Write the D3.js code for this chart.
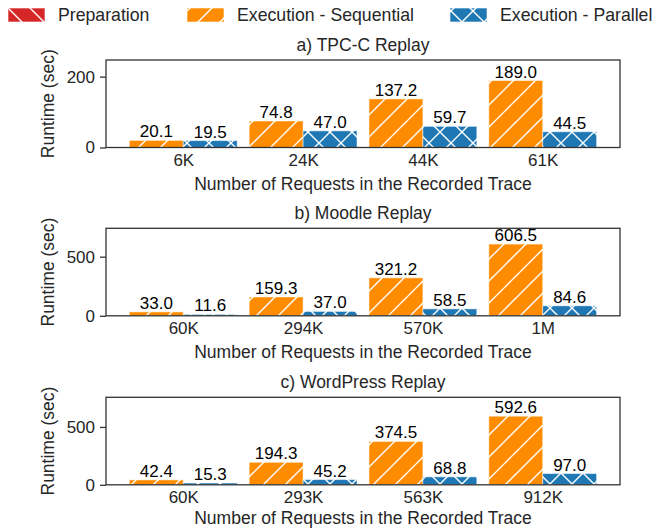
<!DOCTYPE html>
<html>
<head>
<meta charset="utf-8">
<script src="https://cdn.jsdelivr.net/npm/d3@7"></script>
<style>
  body { margin: 0; background: #fff; }
  text { font-family: "Liberation Sans", Arial, sans-serif; }
</style>
</head>
<body>
<script>
'use strict';

// data
const series = ['Preparation', 'Execution - Sequential', 'Execution - Parallel'];
const titles = ['a) TPC-C Replay', 'b) Moodle Replay', 'c) WordPress Replay'];

const tpccLabels = ['6K', '24K', '44K', '61K'];
const tpccPrep = [0, 0, 0, 0];
const tpccSeq = [20.1, 74.8, 137.2, 189.0];
const tpccPar = [19.5, 47.0, 59.7, 44.5];

const moodleLabels = ['60K', '294K', '570K', '1M'];
const moodlePrep = [0, 0, 0, 0];
const moodleSeq = [33.0, 159.3, 321.2, 606.5];
const moodlePar = [11.6, 37.0, 58.5, 84.6];

const wpLabels = ['60K', '293K', '563K', '912K'];
const wpPrep = [0, 0, 0, 0];
const wpSeq = [42.4, 194.3, 374.5, 592.6];
const wpPar = [15.3, 45.2, 68.8, 97.0];

const yMaxes = [247, 740, 756];
const yTicks = [[0, 200], [0, 500], [0, 500]];

const panels = [
  {labels: tpccLabels, prep: tpccPrep, seq: tpccSeq, par: tpccPar},
  {labels: moodleLabels, prep: moodlePrep, seq: moodleSeq, par: moodlePar},
  {labels: wpLabels, prep: wpPrep, seq: wpSeq, par: wpPar}
];

const colors = ['#d62728', '#ff8c00', '#1f77b4'];
const hatchIds = ['hatch-back', 'hatch-slash', 'hatch-cross'];

const W = 662, H = 529;
const left = 106, right = 620;
const panelTops = [60, 228.3, 397.3];
const panelH = 87.5;
const barW = 0.45;

const svg = d3.select('body').append('svg')
  .attr('width', W)
  .attr('height', H);

// hatch patterns
const defs = svg.append('defs');
const P = 22;
function makePattern(id, color, paths) {
  const p = defs.append('pattern')
    .attr('id', id)
    .attr('patternUnits', 'userSpaceOnUse')
    .attr('width', P)
    .attr('height', P);
  p.append('rect').attr('width', P).attr('height', P).attr('fill', color);
  paths.forEach(d => {
    p.append('path').attr('d', d)
      .attr('stroke', '#fff')
      .attr('stroke-width', 1.4)
      .attr('fill', 'none');
  });
}
const slash = `M-2,${P + 2}L${P + 2},-2 M-${P / 2},${P / 2}L${P / 2},-${P / 2} M${P / 2},${P * 1.5}L${P * 1.5},${P / 2}`;
const back = `M-2,-2L${P + 2},${P + 2} M-${P / 2},${P / 2}L${P / 2},${P * 1.5} M${P / 2},-${P / 2}L${P * 1.5},${P / 2}`;
makePattern(hatchIds[0], colors[0], [back]);
makePattern(hatchIds[1], colors[1], [slash]);
makePattern(hatchIds[2], colors[2], [slash, back]);

// legend
const legendX = [8, 187, 450];
const legend = svg.append('g');
series.forEach((s, i) => {
  legend.append('rect')
    .attr('x', legendX[i])
    .attr('y', 8)
    .attr('width', 37)
    .attr('height', 14)
    .attr('fill', `url(#${hatchIds[i]})`)
    .attr('stroke', '#fff')
    .attr('stroke-opacity', 0.6);
  legend.append('text')
    .attr('x', legendX[i] + 50)
    .attr('y', 21)
    .attr('font-size', 17.7)
    .attr('fill', '#262626')
    .text(s);
});

const x = d3.scaleLinear()
  .domain([-0.645, 3.645])
  .range([left, right]);

panels.forEach((pd, pi) => {
  const top = panelTops[pi];
  const bottom = top + panelH;
  const y = d3.scaleLinear()
    .domain([0, yMaxes[pi]])
    .range([bottom, top]);

  const g = svg.append('g');

  // bars: sequential left of tick, parallel right; preparation stacked at the base
  const groups = pd.labels.map((lab, i) => ({i, prep: pd.prep[i], seq: pd.seq[i], par: pd.par[i]}));

  const barGroup = g.append('g');
  [['seq', -1, 1], ['par', 0, 2]].forEach(([key, off, ci]) => {
    barGroup.selectAll(`rect.${key}`)
      .data(groups)
      .enter()
      .append('rect')
      .attr('class', key)
      .attr('x', d => x(d.i + off * barW))
      .attr('y', d => y(d.prep + d[key]))
      .attr('width', x(barW) - x(0))
      .attr('height', d => y(d.prep) - y(d.prep + d[key]))
      .attr('fill', `url(#${hatchIds[ci]})`)
      .attr('stroke', '#fff')
      .attr('stroke-width', 1)
      .attr('stroke-opacity', 0.5);

    barGroup.selectAll(`rect.prep-${key}`)
      .data(groups)
      .enter()
      .append('rect')
      .attr('class', `prep-${key}`)
      .attr('x', d => x(d.i + off * barW))
      .attr('y', d => y(d.prep))
      .attr('width', x(barW) - x(0))
      .attr('height', d => y(0) - y(d.prep))
      .attr('fill', `url(#${hatchIds[0]})`);

    // value labels
    barGroup.selectAll(`text.${key}`)
      .data(groups)
      .enter()
      .append('text')
      .attr('class', key)
      .attr('x', d => x(d.i + off * barW + barW / 2))
      .attr('y', d => y(d.prep + d[key]) - 3)
      .attr('text-anchor', 'middle')
      .attr('font-size', 17)
      .attr('fill', '#000')
      .text(d => d[key].toFixed(1));
  });

  // frame
  g.append('rect')
    .attr('x', left)
    .attr('y', top)
    .attr('width', right - left)
    .attr('height', panelH)
    .attr('fill', 'none')
    .attr('stroke', '#333')
    .attr('stroke-width', 1.3);

  // y axis
  const yAxis = d3.axisLeft(y)
    .tickValues(yTicks[pi])
    .tickSize(6)
    .tickPadding(5)
    .tickFormat(d3.format('d'));
  const ya = g.append('g')
    .attr('transform', `translate(${left},0)`)
    .call(yAxis);
  ya.select('.domain').remove();
  ya.selectAll('line').attr('stroke', '#333').attr('stroke-width', 1.3);
  ya.selectAll('text').attr('font-size', 17).attr('fill', '#262626')
    .attr('font-family', '"Liberation Sans", Arial, sans-serif');

  // x tick labels
  const xa = g.append('g')
    .attr('transform', `translate(0,${bottom})`)
    .call(d3.axisBottom(x)
      .tickValues(d3.range(pd.labels.length))
      .tickSize(0)
      .tickPadding(6)
      .tickFormat(i => pd.labels[i]));
  xa.select('.domain').remove();
  xa.selectAll('text').attr('font-size', 17).attr('fill', '#262626')
    .attr('font-family', '"Liberation Sans", Arial, sans-serif');

  // axis labels and title (last label kept just inside the page)
  g.append('text')
    .attr('x', (left + right) / 2)
    .attr('y', Math.min(bottom + 42, H - 5))
    .attr('text-anchor', 'middle')
    .attr('font-size', 17.5)
    .attr('fill', '#262626')
    .text('Number of Requests in the Recorded Trace');

  g.append('text')
    .attr('transform', `translate(54,${top + panelH / 2}) rotate(-90)`)
    .attr('text-anchor', 'middle')
    .attr('font-size', 17.5)
    .attr('fill', '#262626')
    .text('Runtime (sec)');

  g.append('text')
    .attr('x', (left + right) / 2)
    .attr('y', top - 9)
    .attr('text-anchor', 'middle')
    .attr('font-size', 17.5)
    .attr('fill', '#262626')
    .text(titles[pi]);
});
</script>
</body>
</html>
